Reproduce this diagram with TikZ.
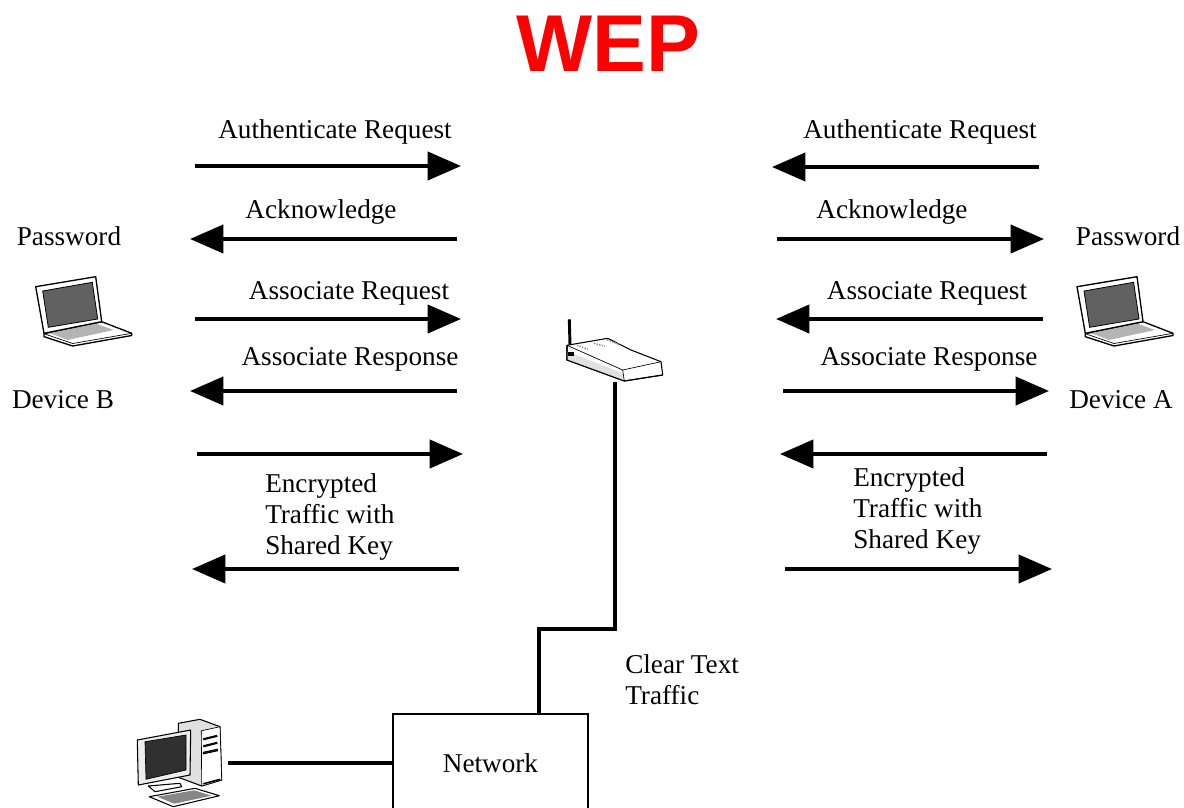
\documentclass[tikz,border=0pt]{standalone}
\usepackage{fontspec}
\setmainfont{Liberation Serif}
\newfontfamily\titlefont{Liberation Sans}
\usetikzlibrary{arrows.meta,positioning}
\definecolor{screengray}{gray}{0.38}
\definecolor{paleshade}{gray}{0.88}
\tikzset{
    x=0.75pt, y=-0.75pt,
    label text/.style={font=\fontsize{20.4}{24}\selectfont, inner sep=0pt, text height=12pt, text depth=4pt},
    stacked text/.style={label text, align=left, anchor=north west, text height=, text depth=, font=\fontsize{20.4}{23.5}\selectfont},
    line/.style={-{Triangle[length=25pt,width=21pt]}, line width=3pt, shorten >=0pt},
    wire/.style={line width=3pt},
    netbox/.style={label text, draw=black, line width=1.5pt, minimum width=146pt, minimum height=73.5pt, text height=15pt, text depth=1pt},
    icon/.style={draw=black, line width=0.8pt, line join=round, fill=white},
    pics/laptop/.style={code={
        \draw[icon, line width=1pt] (8.3,57.7) -- (66,45.7) -- (96,57.3) -- (96,59.5) -- (37,70) -- (8.3,60.7) -- cycle;
        \draw[line width=0.5pt] (8.3,57.7) -- (37,67.5) -- (96,57.3);
        \fill[paleshade!80!black] (14,57) -- (60,47.5) -- (78,54) -- (32,64) -- cycle;
        \draw[icon, line width=1pt] (0,10.7) -- (60,0.7) -- (66,45.7) -- (8.3,57.3) -- cycle;
        \draw[fill=screengray, line width=0.6pt] (7,15) -- (56.6,6.3) -- (62,43) -- (12.6,51.3) -- cycle;
    }},
    pics/router/.style={code={
        \draw[line width=2.2pt] (2.3,0) -- (3.3,37);
        \draw[icon] (0,26) -- (40.7,19) -- (64,30.7) -- (94,42.4) -- (95.7,55.7) -- (57.3,61.7) -- (0,40.7) -- cycle;
        \fill[paleshade] (0,32) -- (55.7,54) -- (57.3,61.7) -- (0,40.7) -- cycle;
        \draw[line width=0.5pt] (0,26) -- (55.7,50.7) -- (94,42.4);
        \draw[line width=0.5pt] (55.7,50.7) -- (57.3,61.7);
        \draw[line width=0.8pt] (0,26) -- (0,40.7) -- (57.3,61.7) -- (95.7,55.7);
        \draw[line width=1pt, densely dotted, gray] (10,26) -- (21,30);
        \draw[line width=1pt, densely dotted, gray] (27,24) -- (38,27);
        \draw[line width=1pt, densely dotted, gray] (40,20.5) -- (52,25);
        \fill[black] (1,33) rectangle (7,37);
    }},
    pics/desktop/.style={code={
        \draw[icon, fill=paleshade] (41,4) -- (62.7,0) -- (82.7,7.4) -- (84.4,60.7) -- (64.4,66.7) -- (41,58) -- cycle;
        \draw[line width=0.5pt, fill=white] (64,11.5) -- (82.7,7.4) -- (84.4,60.7) -- (64.4,66.7) -- cycle;
        \draw[line width=1.6pt] (66,20) -- (80,16.5);
        \draw[line width=1.6pt] (66,27) -- (80,23.5);
        \draw[line width=0.8pt, fill=gray] (66,33) -- (80,30) -- (80,31.5) -- (66,34.5) -- cycle;
        \draw[line width=1.2pt] (66,64.5) -- (83,60);
        \draw[icon] (11,66.7) -- (42.7,64) -- (44.4,67.4) -- (17.7,72.4) -- cycle;
        \draw[icon, fill=paleshade!60!white] (0,20.7) -- (53.4,10.7) -- (52.7,55.7) -- (1,65.7) -- cycle;
        \draw[fill=screengray!50!black, line width=0.5pt] (7.7,22.4) -- (48.7,15.7) -- (48.7,50.7) -- (8.7,60) -- cycle;
        \draw[icon] (12,77.4) -- (57.7,69) -- (82,76.4) -- (36,87.4) -- cycle;
        \fill[paleshade!60!black] (20,77.4) -- (57,71) -- (74,76.4) -- (37,84.4) -- cycle;
    }},
}
\begin{document}
\begin{tikzpicture}
    \useasboundingbox (0,0) rectangle (1184,807);
    \clip (0,0) rectangle (1184,807);

    \node[font=\fontsize{60.5}{60}\selectfont\titlefont\bfseries, text=red] (title) at (608,44) {WEP};

    % left side
    \coordinate (la) at (195,166);  \coordinate (lb) at (461,166);
    \coordinate (lc) at (457,239);  \coordinate (ld) at (190,239);
    \coordinate (le) at (195,319);  \coordinate (lf) at (461,319);
    \coordinate (lg) at (457,391);  \coordinate (lh) at (190,391);
    \coordinate (li) at (197,454);  \coordinate (lj) at (463,454);
    \coordinate (lk) at (459,569);  \coordinate (ll) at (192,569);

    % right side
    \coordinate (ra) at (1039,167); \coordinate (rb) at (772,167);
    \coordinate (rc) at (777,239);  \coordinate (rd) at (1044,239);
    \coordinate (re) at (1043,319); \coordinate (rf) at (776,319);
    \coordinate (rg) at (783,391);  \coordinate (rh) at (1049,391);
    \coordinate (ri) at (1047,454); \coordinate (rj) at (780,454);
    \coordinate (rk) at (785,569);  \coordinate (rl) at (1052,569);

    \foreach \a/\b in {la/lb,lc/ld,le/lf,lg/lh,li/lj,lk/ll,ra/rb,rc/rd,re/rf,rg/rh,ri/rj,rk/rl}
        \draw[line] (\a) -- (\b);

    \node[label text] (authb) at (335,133) {Authenticate Request};
    \node[label text] (ackb) at (321,213) {Acknowledge};
    \node[label text] (assocb) at (349,294) {Associate Request};
    \node[label text] (respb) at (350,360) {Associate Response};
    \node[stacked text] (encb) at (265,473) {Encrypted\\Traffic with\\Shared Key};

    \node[label text] (autha) at (920,133) {Authenticate Request};
    \node[label text] (acka) at (892,213) {Acknowledge};
    \node[label text] (assoca) at (927,294) {Associate Request};
    \node[label text] (respa) at (929,360) {Associate Response};
    \node[stacked text] (enca) at (853,467) {Encrypted\\Traffic with\\Shared Key};

    \node[label text] (passb) at (69,240) {Password};
    \node[label text] (devb) at (63,403) {Device B};
    \node[label text] (passa) at (1128,240) {Password};
    \node[label text] (deva) at (1121,403) {Device A};

    \pic at (35.7,276) {laptop};
    \pic at (1077,276) {laptop};
    \pic at (567,319.3) {router};
    \pic at (137.3,719.3) {desktop};

    \node[netbox] (network) at (490.5,763) {Network};
    \node[stacked text] (clear) at (625,654) {Clear Text\\Traffic};

    \coordinate (routerfoot) at (615,382);
    \coordinate (desktopport) at (228,763);
    \draw[wire] (routerfoot) |- (539,629) -- (539,714);
    \draw[wire] (desktopport) -- (network.west);
\end{tikzpicture}
\end{document}
